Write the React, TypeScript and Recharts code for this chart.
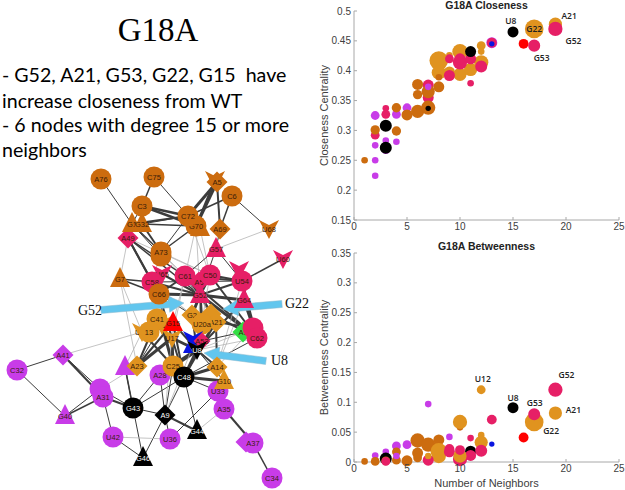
import React from "react";
import {
  ReferenceDot,
  ReferenceLine,
  Scatter,
  ScatterChart,
  XAxis,
  YAxis,
  ZAxis,
} from "recharts";

type Bubble = [number, number, number]; // neighbors, centrality, weight
type NodeRow = [string, string, number, number]; // id, kind, x, y
type EdgeRow = [string, string, number]; // from, to, weight

const BROWN = "#cc6c0f";
const GOLD = "#e0931f";
const CRIMSON = "#e61f66";
const PURPLE = "#c83ce8";
const BLACK = "#000000";
const RED = "#ff0000";
const BLUE = "#0a14e0";
const GREEN = "#33dd44";

const neighborTicks = [0, 5, 10, 15, 20, 25];
const closenessTicks = [0.15, 0.2, 0.25, 0.3, 0.35, 0.4, 0.45, 0.5];
const betweennessTicks = [0, 0.05, 0.1, 0.15, 0.2, 0.25, 0.3, 0.35];

// Closeness panel
const closePurple: Bubble[] = [
  [2, 0.325, 16], [2, 0.275, 9], [2, 0.25, 9], [2, 0.224, 9], [3, 0.283, 9],
  [3, 0.267, 12], [4, 0.327, 16], [4, 0.281, 9], [5, 0.338, 16], [13, 0.447, 25],
];
const closeGold: Bubble[] = [
  [8, 0.417, 72], [8, 0.397, 42], [9, 0.426, 9], [9, 0.398, 25], [10, 0.432, 49],
  [10, 0.394, 36], [11, 0.402, 36], [12, 0.414, 42], [12, 0.442, 16], [12, 0.432, 9],
  [17, 0.47, 72], [19, 0.478, 36],
];
const closeCrimson: Bubble[] = [
  [2, 0.292, 16], [3, 0.337, 9], [3, 0.327, 16], [7, 0.355, 25], [7, 0.376, 25],
  [9, 0.42, 16], [9, 0.392, 25], [10, 0.414, 42], [10, 0.42, 25], [11, 0.42, 25],
  [11, 0.379, 9], [12, 0.407, 30], [13, 0.447, 20], [17, 0.442, 30], [19, 0.47, 42],
];
const closeBrown: Bubble[] = [
  [1, 0.25, 9], [2, 0.301, 18], [4, 0.299, 18], [4, 0.338, 18], [5, 0.326, 25],
  [6, 0.332, 36], [6, 0.36, 18], [6, 0.377, 25], [7, 0.338, 42], [7, 0.365, 36],
  [8, 0.373, 25], [8, 0.389, 9],
];
const closePurpleTop: Bubble[] = [[7, 0.373, 9]];
const closeBlack: Bubble[] = [
  [3, 0.308, 30], [3, 0.271, 30], [7, 0.337, 6], [11, 0.432, 25], [15, 0.465, 25],
];
const closeRed: Bubble[] = [[16, 0.445, 20]];
const closeBlue: Bubble[] = [[13, 0.445, 6]];
const closeNames: [string, number, number][] = [
  ["U8", 14.8, 0.4825], ["A21", 20.3, 0.491], ["G52", 20.7, 0.449], ["G53", 17.7, 0.422],
  ["G22", 17, 0.47],
];

// Betweenness panel
const betweenPurple: Bubble[] = [
  [2, 0.011, 9], [3, 0.017, 9], [4, 0.027, 16], [5, 0.029, 16], [7, 0.097, 9], [9, 0.042, 9],
];
const betweenBlack: Bubble[] = [[3, 0.006, 30], [11, 0.018, 25], [15, 0.091, 25]];
const betweenBrown: Bubble[] = [
  [1, 0.001, 9], [2, 0.001, 16], [3, 0.002, 16], [4, 0.003, 16], [4, 0.017, 16],
  [5, 0.002, 25], [6, 0.007, 16], [6, 0.015, 25], [6, 0.036, 42], [7, 0.029, 42],
  [8, 0.037, 25], [10, 0.058, 9],
];
const betweenGold: Bubble[] = [
  [8, 0.01, 42], [8, 0.018, 56], [10, 0.067, 42], [12, 0.045, 9], [12, 0.033, 36],
  [12, 0.121, 16], [17, 0.067, 72], [19, 0.082, 36],
];
const betweenCrimson: Bubble[] = [
  [3, 0.001, 16], [7, 0.003, 25], [9, 0.022, 20], [9, 0.017, 25], [10, 0.005, 42],
  [11, 0.011, 25], [11, 0.04, 9], [12, 0.019, 30], [13, 0.071, 20], [17, 0.08, 30],
  [19, 0.121, 42],
];
const betweenGoldTop: Bubble[] = [[7, 0.01, 9], [10, 0.01, 36]];
const betweenCrimsonTop: Bubble[] = [[10, 0.02, 20]];
const betweenPurpleTop: Bubble[] = [[4, 0.01, 9]];
const betweenRed: Bubble[] = [[16, 0.041, 20]];
const betweenBlue: Bubble[] = [[13, 0.03, 6]];
const betweenNames: [string, number, number][] = [
  ["U12", 12.15, 0.139], ["G52", 20.05, 0.146], ["U8", 15, 0.108], ["G53", 17.05, 0.099],
  ["A21", 20.7, 0.087], ["G22", 18.6, 0.052],
];

// Contact network, drawn on a picture-sized axis pair
const purpleNodes: NodeRow[] = [
  ["A41", "diamond", 63, 355], ["C32", "circle", 17, 370], ["G40", "triangle", 65, 416],
  ["A31b", "circle", 100, 389], ["A31", "circle", 103, 397], ["U39", "triangle", 125, 367],
  ["A28", "circle", 160, 375], ["U33", "circle", 218, 391], ["A35", "circle", 224, 409],
  ["U42", "circle", 113, 437], ["U36", "circle", 170, 439], ["A37b", "diamond", 246, 442],
  ["A37", "circle", 253, 443], ["C34", "circle", 272, 478],
];
const goldNodes: NodeRow[] = [
  ["U12", "vee", 142, 332], ["G10", "triangle", 224, 381], ["A14", "diamond", 217, 367],
  ["U1", "vee", 162, 325], ["C41", "circle", 157, 319], ["G2", "diamond", 192, 315],
  ["G22", "diamond", 211, 314], ["A21", "diamond", 216, 322], ["U20a", "circle", 202, 324],
  ["13", "circle", 149, 332], ["U17", "vee", 172, 338], ["A23", "diamond", 137, 366],
  ["C25", "circle", 173, 366],
];
const greenNodes: NodeRow[] = [["A1", "diamond", 243, 332]];
const blueNodes: NodeRow[] = [["U7", "vee", 193, 340], ["G8", "mini", 188, 349]];
const crimsonNodes: NodeRow[] = [
  ["A49", "diamond", 128, 238], ["U65", "vee", 162, 274], ["C58", "circle", 152, 282],
  ["A5b", "diamond", 199, 282], ["G57", "triangle", 216, 249], ["U54b", "vee", 239, 270],
  ["G64", "triangle", 244, 300], ["C61", "circle", 185, 276], ["C50", "circle", 210, 275],
  ["G52", "triangle", 200, 295], ["U54", "circle", 242, 281], ["U60", "vee", 283, 259],
  ["C60", "circle", 253, 328], ["C62", "circle", 257, 338], ["A53", "small", 202, 341],
];
const brownNodes: NodeRow[] = [
  ["A76", "circle", 101, 179], ["C75", "circle", 154, 177], ["A5v", "vee", 215, 180],
  ["A5", "diamond", 217, 182], ["C6", "circle", 232, 196], ["U68", "vee", 269, 229],
  ["G1", "triangle", 132, 224], ["G32", "triangle", 142, 224], ["C3", "circle", 142, 206],
  ["G70t", "triangle", 200, 228], ["G70", "circle", 196, 226], ["C72", "circle", 188, 216],
  ["A69", "diamond", 220, 229], ["A73b", "circle", 161, 256], ["A73", "circle", 161, 252],
  ["G7", "triangle", 120, 279], ["C66", "circle", 159, 294],
];
const redNodes: NodeRow[] = [["G15", "triangle", 173, 323]];
const blackNodes: NodeRow[] = [
  ["U8", "vee", 197, 350], ["C48", "circle", 184, 377], ["G43", "circle", 133, 408],
  ["A9", "diamond", 165, 415], ["G44", "triangle", 197, 431], ["G46", "triangle", 143, 458],
];

const edges: EdgeRow[] = [
  ["A76", "G1", 1], ["C75", "C3", 1.5], ["C75", "C72", 1], ["C3", "C72", 2.5], ["C3", "G70", 2.5],
  ["C3", "G1", 1], ["C3", "G32", 1], ["G1", "C72", 2], ["G32", "G70", 1.5], ["G32", "C72", 1],
  ["A5", "C72", 3], ["A5", "G70", 3], ["A5v", "G70", 2], ["A5", "A69", 2], ["C6", "C72", 1.5],
  ["C6", "A69", 1.5], ["C6", "U68", 1], ["U68", "G57", 0.5], ["A69", "G57", 1], ["C72", "A73", 1],
  ["G70", "A73", 1.5], ["G1", "A73", 1.5], ["G32", "A73", 2], ["G1", "A73b", 1], ["A49", "G1", 1],
  ["A49", "G7", 0.5], ["A49", "C58", 2], ["A49", "C61", 1.5], ["A49", "G52", 1.5], ["A49", "C66", 2],
  ["A73", "C58", 0.5], ["A73", "C61", 0.5], ["A73", "G52", 0.5], ["G70", "G52", 0.5], ["G70t", "C50", 0.5],
  ["G70", "C61", 0.5], ["C72", "C50", 0.5], ["A73", "C50", 0.5], ["A49", "C50", 0.5],
  ["G57", "C61", 1], ["G57", "G52", 1], ["G57", "U54", 1], ["U60", "U54", 1.5], ["G7", "C58", 1.5],
  ["G7", "C66", 1.5], ["G7", "A23", 0.5], ["G7", "U12", 0.5], ["C58", "G52", 2], ["C61", "G52", 3],
  ["C50", "G52", 3], ["C50", "U54", 2], ["C61", "U54", 2], ["U65", "G52", 2], ["C58", "U54", 1],
  ["G52", "G64", 3], ["G52", "U54", 2], ["C66", "G52", 3], ["C66", "C61", 2], ["U54", "C62", 2],
  ["G64", "C62", 3], ["G52", "C62", 3], ["C50", "C62", 2], ["C61", "C62", 2], ["G52", "A21", 3],
  ["G52", "U20a", 3], ["G52", "G2", 3], ["C66", "U17", 2], ["C66", "G2", 1], ["C58", "U17", 1],
  ["C61", "G15", 0.5], ["C61", "U17", 0.5], ["C58", "G2", 0.5], ["C58", "U20a", 0.5], ["C61", "A21", 0.5],
  ["C50", "U8", 0.5], ["G52", "U8", 0.5], ["G64", "A14", 0.5], ["U54", "A14", 0.5], ["C62", "U8", 0.5],
  ["U8", "U17", 3], ["U8", "C25", 4], ["U8", "C48", 3],
  ["U8", "G2", 2], ["U8", "U20a", 2], ["U8", "A21", 2], ["U8", "A14", 2], ["U8", "G10", 1],
  ["U8", "G15", 2], ["U17", "C25", 3], ["U17", "A23", 3], ["U1", "C25", 3], ["U12", "C25", 2],
  ["A23", "C41", 2], ["A23", "U1", 1], ["A23", "G15", 2], ["C48", "U17", 2], ["C48", "G15", 2],
  ["C48", "C62", 1], ["C48", "G10", 3], ["C48", "A14", 3], ["C48", "U33", 1], ["C48", "A9", 1],
  ["C48", "G44", 1], ["C48", "G43", 1], ["C48", "A21", 2], ["A14", "A21", 2], ["A14", "C60", 0.5],
  ["G64", "U8", 2], ["A1", "U8", 0.5], ["A1", "A53", 1], ["A21", "C60", 2], ["G22", "C62", 2],
  ["A28", "G43", 1], ["A28", "A9", 1], ["C25", "A9", 1], ["U20a", "A9", 0.5], ["G15", "A9", 0.5],
  ["G43", "A31", 2], ["G43", "A31b", 1], ["G43", "A9", 1], ["G43", "G46", 1], ["G43", "U39", 1.5],
  ["A9", "G44", 2], ["A9", "G46", 1], ["A31", "G40", 1.5], ["A31b", "G40", 1], ["A41", "A31", 2],
  ["A41", "A31b", 1], ["A41", "U12", 0.5], ["A41", "C32", 1], ["C32", "G40", 1], ["A31", "U42", 1],
  ["A31b", "A23", 0.5], ["U42", "G46", 1], ["U42", "U36", 0.4], ["U33", "U36", 1], ["U36", "A9", 1],
  ["A35", "G44", 0.5], ["A35", "A37", 2], ["A37", "C34", 1.5], ["U39", "U12", 0.5], ["U39", "G43", 1],
];

const arrows: [number, number, number, number][] = [
  [101, 310, 184, 303],
  [282, 304, 223, 309],
  [266, 361, 204, 353],
];

const allNodes = [
  ...purpleNodes, ...goldNodes, ...greenNodes, ...blueNodes,
  ...crimsonNodes, ...brownNodes, ...redNodes, ...blackNodes,
];

// nodes whose labels sit out of sight behind a neighbour in the picture
const noLabel = new Set(["A31b", "A37b", "A5v", "G70t", "A73b", "U54b", "U7", "G8", "C60", "U39", "G22"]);

const toBubbles = (rows: Bubble[]) => rows.map(([x, y, z]) => ({ x, y, z }));
const toNodes = (rows: NodeRow[]) =>
  rows.map(([id, kind, x, y]) => ({ id, kind, x, y }));

function NodeMark(props: any) {
  const { cx, cy, payload, fill } = props;
  const { id, kind } = payload;
  const textFill = fill === BLACK ? "#ffffff" : "#3a1c08";
  let mark;
  if (kind === "circle") {
    mark = <circle cx={cx} cy={cy} r={10.5} fill={fill} />;
  } else if (kind === "diamond" || kind === "small") {
    const d = kind === "small" ? 8.5 : 10.5;
    mark = (
      <polygon
        points={`${cx - d},${cy} ${cx},${cy - d} ${cx + d},${cy} ${cx},${cy + d}`}
        fill={fill}
      />
    );
  } else if (kind === "triangle" || kind === "mini") {
    const s = kind === "mini" ? 0.5 : 1;
    mark = (
      <polygon
        points={`${cx},${cy - 12 * s} ${cx + 10 * s},${cy + 8 * s} ${cx - 10 * s},${cy + 8 * s}`}
        fill={fill}
      />
    );
  } else {
    mark = (
      <polygon
        points={`${cx - 10},${cy - 9} ${cx},${cy - 4} ${cx + 10},${cy - 9} ${cx},${cy + 10}`}
        fill={fill}
      />
    );
  }
  return (
    <g>
      {mark}
      {!noLabel.has(id) && (
        <text
          x={cx}
          y={cy + 3}
          textAnchor="middle"
          fontSize={7.5}
          fontFamily="Liberation Sans"
          fill={textFill}
        >
          {id.replace(/b$/, "")}
        </text>
      )}
    </g>
  );
}

function ArrowShape(props: any) {
  const { x1, y1, x2, y2 } = props;
  const len = Math.hypot(x2 - x1, y2 - y1);
  const ux = (x2 - x1) / len;
  const uy = (y2 - y1) / len;
  const pt = (along: number, side: number) =>
    `${x1 + ux * along - uy * side},${y1 + uy * along + ux * side}`;
  const neck = len - 15;
  return (
    <polygon
      points={[
        pt(0, -3.5), pt(neck, -3.5), pt(neck, -8), pt(len, 0),
        pt(neck, 8), pt(neck, 3.5), pt(0, 3.5),
      ].join(" ")}
      fill="#62c6ee"
      stroke="#8fb8cc"
      strokeWidth={0.5}
    />
  );
}

function BubblePanel({
  top,
  height,
  marginTop,
  xHeight,
  yName,
  yDomain,
  yTicks,
  xName,
  series,
  names,
}: any) {
  return (
    <div style={{ position: "absolute", left: 310, top }}>
      <ScatterChart
        width={315}
        height={height}
        margin={{ top: marginTop, right: 6, bottom: 0, left: 0 }}
      >
        <XAxis
          dataKey="x"
          type="number"
          domain={[0, 25]}
          ticks={neighborTicks}
          tickSize={-3}
          tickMargin={6}
          height={xHeight}
          interval={0}
          stroke="#a8a8a8"
          tick={{ fontSize: 10, fill: "#404040", fontFamily: "Liberation Sans" }}
          label={
            xName
              ? {
                  value: xName,
                  position: "insideBottom",
                  offset: 3,
                  fontSize: 11,
                  fill: "#404040",
                  fontFamily: "Liberation Sans",
                }
              : undefined
          }
        />
        <YAxis
          dataKey="y"
          type="number"
          domain={yDomain}
          ticks={yTicks}
          tickSize={-3}
          tickMargin={6}
          width={44}
          interval={0}
          stroke="#a8a8a8"
          tickFormatter={(v: number) => String(v)}
          tick={{ fontSize: 10, fill: "#404040", fontFamily: "Liberation Sans" }}
          label={{
            value: yName,
            angle: -90,
            position: "insideLeft",
            offset: 14,
            style: { textAnchor: "middle" },
            fontSize: 11,
            fill: "#404040",
            fontFamily: "Liberation Sans",
          }}
        />
        <ZAxis dataKey="z" type="number" domain={[0, 100]} range={[0, 380]} />
        {series.map(([rows, color]: [Bubble[], string], i: number) => (
          <Scatter
            key={i}
            data={toBubbles(rows)}
            fill={color}
            isAnimationActive={false}
          />
        ))}
        {names.map(([name, x, y]: [string, number, number]) => (
          <ReferenceDot
            key={name}
            x={x}
            y={y}
            r={0}
            fill="none"
            stroke="none"
            label={{
              value: name,
              position: "center",
              fontSize: 8.5,
              fontWeight: 600,
              fontFamily: "Open Sans",
              fill: "#222222",
            }}
          />
        ))}
      </ScatterChart>
    </div>
  );
}

const nodeLayers: [NodeRow[], string][] = [
  [purpleNodes, PURPLE],
  [goldNodes, GOLD],
  [greenNodes, GREEN],
  [blueNodes, BLUE],
  [crimsonNodes, CRIMSON],
  [brownNodes, BROWN],
  [redNodes, RED],
  [blackNodes, BLACK],
];

function Network() {
  const where = (id: string) => {
    const n = allNodes.find((row) => row[0] === id)!;
    return { x: n[2], y: n[3] };
  };
  return (
    <div style={{ position: "absolute", left: 0, top: 160 }}>
      <ScatterChart
        width={310}
        height={330}
        margin={{ top: 0, right: 0, bottom: 0, left: 0 }}
      >
        <XAxis dataKey="x" type="number" domain={[0, 310]} hide />
        <YAxis dataKey="y" type="number" domain={[160, 490]} reversed hide />
        {edges.map(([a, b, w], i) => (
          <ReferenceLine
            key={i}
            segment={[where(a), where(b)]}
            stroke={w < 0.7 ? "#b5b5b5" : "#3c3c3c"}
            strokeWidth={w < 0.7 ? 0.8 : w}
          />
        ))}
        {nodeLayers.map(([rows, color], i) => (
          <Scatter
            key={i}
            data={toNodes(rows)}
            fill={color}
            shape={NodeMark}
            isAnimationActive={false}
          />
        ))}
        {arrows.map(([x1, y1, x2, y2], i) => (
          <ReferenceLine
            key={i}
            segment={[{ x: x1, y: y1 }, { x: x2, y: y2 }]}
            shape={ArrowShape}
          />
        ))}
      </ScatterChart>
    </div>
  );
}

const textLine = (top: number): React.CSSProperties => ({
  position: "absolute",
  left: 2,
  top,
  fontFamily: "Lato",
  fontSize: 19.6,
  lineHeight: "25px",
  color: "#000",
  whiteSpace: "pre",
});

const callout = (left: number, top: number): React.CSSProperties => ({
  position: "absolute",
  left,
  top,
  fontFamily: "Liberation Serif",
  fontSize: 14,
  color: "#111",
  whiteSpace: "pre",
});

const plotTitle = (top: number): React.CSSProperties => ({
  position: "absolute",
  left: 354,
  top,
  width: 265,
  textAlign: "center",
  fontFamily: "Liberation Sans",
  fontWeight: 700,
  fontSize: 10.5,
  lineHeight: "12px",
  color: "#222",
});

export default function App() {
  return (
    <div
      style={{
        position: "absolute",
        left: 0,
        top: 0,
        width: 625,
        height: 490,
        background: "#fff",
        overflow: "hidden",
      }}
    >
      <div
        style={{
          position: "absolute",
          left: 108,
          top: 10,
          width: 100,
          textAlign: "center",
          fontFamily: "Liberation Serif",
          fontSize: 33,
          lineHeight: "40px",
          color: "#000",
        }}
      >
        G18A
      </div>
      <div style={textLine(62)}>{"- G52, A21, G53, G22, G15  have"}</div>
      <div style={textLine(88)}>increase closeness from WT</div>
      <div style={textLine(112)}>- 6 nodes with degree 15 or more</div>
      <div style={textLine(137)}>neighbors</div>

      <Network />
      <div style={callout(78, 303)}>G52</div>
      <div style={callout(285, 296)}>G22</div>
      <div style={callout(271, 353)}>U8</div>

      <BubblePanel
        top={0}
        height={240}
        marginTop={11}
        xHeight={20}
        yName="Closeness Centrality"
        yDomain={[0.15, 0.5]}
        yTicks={closenessTicks}
        series={[
          [closePurple, PURPLE],
          [closeGold, GOLD],
          [closeCrimson, CRIMSON],
          [closeBrown, BROWN],
          [closePurpleTop, PURPLE],
          [closeBlack, BLACK],
          [closeRed, RED],
          [closeBlue, BLUE],
        ]}
        names={closeNames}
      />
      <div style={plotTitle(-1)}>G18A Closeness</div>

      <BubblePanel
        top={240}
        height={250}
        marginTop={13}
        xHeight={28}
        xName="Number of Neighbors"
        yName="Betweenness Centrality"
        yDomain={[0, 0.35]}
        yTicks={betweennessTicks}
        series={[
          [betweenPurple, PURPLE],
          [betweenBlack, BLACK],
          [betweenBrown, BROWN],
          [betweenGold, GOLD],
          [betweenCrimson, CRIMSON],
          [betweenGoldTop, GOLD],
          [betweenCrimsonTop, CRIMSON],
          [betweenPurpleTop, PURPLE],
          [betweenRed, RED],
          [betweenBlue, BLUE],
        ]}
        names={betweenNames}
      />
      <div style={plotTitle(240)}>G18A Betweenness</div>
    </div>
  );
}
